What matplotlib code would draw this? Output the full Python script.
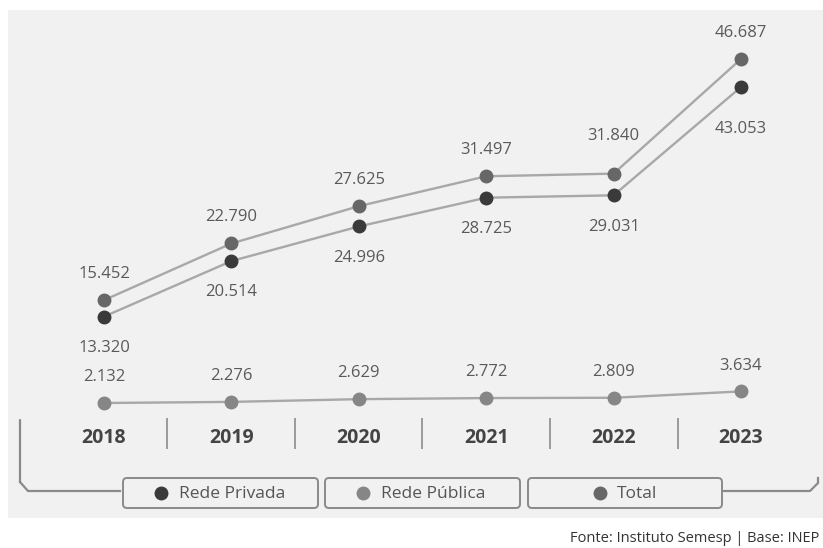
import matplotlib.pyplot as plt
from matplotlib.patches import Rectangle, FancyBboxPatch

# data
years = ['2018', '2019', '2020', '2021', '2022', '2023']
privada = [13320, 20514, 24996, 28725, 29031, 43053]
publica = [2132, 2276, 2629, 2772, 2809, 3634]
total = [15452, 22790, 27625, 31497, 31840, 46687]

def fmt(v):
    return f'{v:,}'.replace(',', '.')

W, H = 823, 548
fig = plt.figure(figsize=(W / 100, H / 100), dpi=100)
plt.rcParams['font.family'] = ['Open Sans', 'DejaVu Sans']

# background / decoration axes in pixel coordinates
deco = fig.add_axes([0, 0, 1, 1], zorder=0)
deco.set_xlim(0, W)
deco.set_ylim(H, 0)
deco.axis('off')
deco.add_patch(Rectangle((8, 10), W - 8, 508, facecolor='#f1f1f1', edgecolor='none'))

# bracket under the chart
bc = '#8a8a8a'
deco.plot([20, 20], [420, 482], color=bc, lw=1.6, solid_capstyle='round')
deco.plot([20, 28, 120], [482, 491, 491], color=bc, lw=1.6)
deco.plot([724, 810, 818, 818], [491, 491, 483, 478], color=bc, lw=1.6)

# year separators
for xs in [167, 295, 422, 550, 678]:
    deco.plot([xs, xs], [419, 448], color='#9a9a9a', lw=1.4)

# legend boxes
legend = [('Rede Privada', '#3a3a3a', 123, 318),
          ('Rede Pública', '#868686', 325, 520),
          ('Total', '#676767', 528, 722)]
for name, col, x0, x1 in legend:
    deco.add_patch(FancyBboxPatch((x0, 478), x1 - x0, 30,
                                  boxstyle='round,pad=0,rounding_size=4',
                                  facecolor='#f1f1f1', edgecolor='#8a8a8a', lw=1.4))
    if name == 'Total':
        dx, tx = 600, 617
    else:
        dx, tx = x0 + 38, x0 + 56
    deco.plot(dx, 493, 'o', color=col, ms=9)
    deco.text(tx, 494, name, fontsize=12.5, color='#555555', va='center', ha='left')

deco.text(819, 538, 'Fonte: Instituto Semesp | Base: INEP', fontsize=10.5,
          color='#333333', ha='right', va='center')

# data axes mapped so that points land on the same pixels as the reference
ax = fig.add_axes([0, 0, 1, 1], zorder=1)
ax.patch.set_alpha(0)
ax.axis('off')
x = list(range(len(years)))
ax.set_xlim(-104 / 127.4, (W - 104) / 127.4)
ax.set_ylim(-16648, 54327)

line_c = '#a8a8a8'
ax.plot(x, total, color=line_c, lw=1.7, zorder=2)
ax.plot(x, privada, color=line_c, lw=1.7, zorder=2)
ax.plot(x, publica, color=line_c, lw=1.7, zorder=2)
ax.plot(x, total, 'o', color='#676767', ms=9, zorder=3)
ax.plot(x, privada, 'o', color='#3a3a3a', ms=9, zorder=3)
ax.plot(x, publica, 'o', color='#868686', ms=9, zorder=3)

lab_c = '#5a5a5a'
for i in x:
    dy_tot = 27 if i == 4 else 19
    dy_pri = -30 if i == 5 else -22.5
    ax.annotate(fmt(total[i]), (i, total[i]), xytext=(0, dy_tot), textcoords='offset points',
                ha='center', va='center', fontsize=12, color=lab_c)
    ax.annotate(fmt(privada[i]), (i, privada[i]), xytext=(0, dy_pri), textcoords='offset points',
                ha='center', va='center', fontsize=12, color=lab_c)
    ax.annotate(fmt(publica[i]), (i, publica[i]), xytext=(0, 18.5), textcoords='offset points',
                ha='center', va='center', fontsize=12, color=lab_c)
    ax.text(i, -2400, years[i], ha='center', va='center', fontsize=14,
            fontweight='bold', color='#444444')

fig.savefig('out.png', dpi=100)
